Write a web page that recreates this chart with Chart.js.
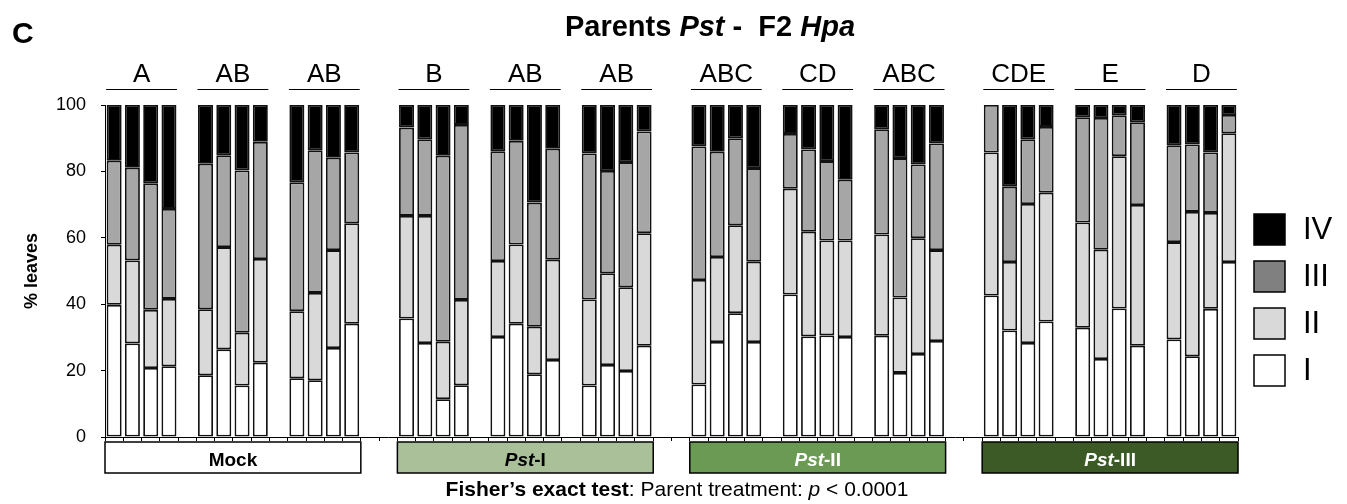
<!DOCTYPE html>
<html>
<head>
<meta charset="utf-8">
<script src="https://cdn.jsdelivr.net/npm/chart.js@4/dist/chart.umd.min.js"></script>
<style>
  html, body { margin: 0; padding: 0; background: #fff; }
  #wrap { position: relative; width: 1347px; height: 504px; }
</style>
</head>
<body>
<div id="wrap"><canvas id="chart" width="1347" height="504"></canvas></div>
<script>
const treatments = ['Mock', 'Pst-I', 'Pst-II', 'Pst-III'];
const treatmentColors = ['#ffffff', '#a9c099', '#6b9a54', '#3b5a26'];
const treatmentTextColors = ['#000000', '#000000', '#ffffff', '#ffffff'];
const groupLetters = ['A', 'AB', 'AB', 'B', 'AB', 'AB', 'ABC', 'CD', 'ABC', 'CDE', 'E', 'D'];
const stageNames = ['I', 'II', 'III', 'IV'];
const stageColors = ['#ffffff', '#d9d9d9', '#a6a6a6', '#000000'];
const legendColors = ['#ffffff', '#d9d9d9', '#808080', '#000000'];
const yTicks = [0, 20, 40, 60, 80, 100];

// % leaves per disease class, 48 bars (12 groups of 4)
const stageI = [
  39.8, 28.2, 20.8, 21.3, 18.6, 26.4, 15.5, 22.4, 17.7, 17.1, 26.8, 34.1,
  35.7, 28.3, 11.4, 15.6, 30.1, 34.1, 18.9, 23.2, 15.5, 21.7, 19.9, 27.5,
  15.8, 28.6, 37.3, 28.6, 42.9, 30.3, 30.6, 30.1, 30.5, 19.3, 25.0, 28.9,
  42.6, 32.1, 28.3, 34.8, 32.9, 23.5, 38.7, 27.5, 29.4, 24.3, 38.6, 52.7,
];
const stageII = [
  18.1, 25.0, 17.5, 20.3, 19.9, 30.8, 15.9, 31.2, 20.2, 26.3, 29.5, 30.3,
  30.9, 38.3, 17.3, 25.7, 22.9, 23.9, 14.3, 30.2, 25.9, 27.6, 25.2, 33.9,
  31.5, 25.6, 26.5, 24.2, 31.9, 31.5, 28.6, 29.1, 30.5, 22.7, 34.9, 27.4,
  43.1, 20.6, 41.9, 38.8, 31.7, 32.9, 45.9, 42.4, 29.3, 43.5, 28.9, 38.8,
];
const stageIII = [
  25.3, 27.9, 38.1, 27.1, 43.8, 27.7, 48.9, 35.3, 38.8, 43.0, 27.8, 21.3,
  26.6, 23.1, 56.0, 52.7, 33.1, 31.2, 37.4, 33.4, 44.0, 30.8, 37.7, 30.6,
  40.2, 31.7, 26.2, 28.2, 16.5, 24.8, 23.9, 18.3, 31.7, 42.0, 22.2, 32.1,
  14.3, 22.7, 19.5, 19.8, 31.7, 39.7, 12.3, 24.9, 29.2, 20.3, 18.2, 5.5,
];
const stageIV = [
  16.8, 18.9, 23.6, 31.3, 17.7, 15.1, 19.7, 11.1, 23.3, 13.6, 15.9, 14.3,
  6.8, 10.3, 15.3, 6.0, 13.9, 10.8, 29.4, 13.2, 14.6, 19.9, 17.2, 8.0,
  12.5, 14.1, 10.0, 19.0, 8.7, 13.4, 16.9, 22.5, 7.3, 16.0, 17.9, 11.6,
  0.0, 24.6, 10.3, 6.6, 3.7, 3.9, 3.1, 5.2, 12.1, 11.9, 14.3, 3.0,
];

const FONT = '"Liberation Sans", Arial, sans-serif';
const BARS_PER_GROUP = 4;
const GROUPS_PER_TREATMENT = 3;
const TREATMENT_SLOTS = 16; // 3 groups of 4 + 1 gap between groups + 2 gap slots after
const TOTAL_SLOTS = TREATMENT_SLOTS * (treatments.length - 1) + 14;

function groupStartSlot(g) {
  const t = Math.floor(g / GROUPS_PER_TREATMENT);
  const j = g % GROUPS_PER_TREATMENT;
  return t * TREATMENT_SLOTS + j * (BARS_PER_GROUP + 1);
}

function toSlots(values) {
  const out = new Array(TOTAL_SLOTS).fill(null);
  values.forEach((v, i) => {
    const g = Math.floor(i / BARS_PER_GROUP);
    out[groupStartSlot(g) + (i % BARS_PER_GROUP)] = v;
  });
  return out;
}

const labels = Array.from({ length: TOTAL_SLOTS }, (_, i) => String(i));
const stageValues = [stageI, stageII, stageIII, stageIV];

const datasets = stageValues.map((vals, idx) => ({
  label: stageNames[idx],
  data: toSlots(vals),
  backgroundColor: stageColors[idx],
  borderColor: '#111',
  borderWidth: 1.8,
  borderSkipped: false,
  categoryPercentage: 1,
  barPercentage: 0.82,
}));

// draw mixed-style text runs centred on x
function drawRuns(ctx, runs, cx, y) {
  let total = 0;
  runs.forEach((r) => {
    ctx.font = r.font;
    r.w = ctx.measureText(r.text).width;
    total += r.w;
  });
  let x = cx - total / 2;
  ctx.textAlign = 'left';
  runs.forEach((r) => {
    ctx.font = r.font;
    ctx.fillStyle = r.color || '#000';
    ctx.fillText(r.text, x, y);
    x += r.w;
  });
}

const decorations = {
  id: 'decorations',
  afterDraw(chart) {
    const ctx = chart.ctx;
    const xs = chart.scales.x;
    const area = chart.chartArea;
    const slot = (area.right - area.left) / TOTAL_SLOTS;
    ctx.save();

    // panel letter
    ctx.fillStyle = '#000';
    ctx.textBaseline = 'alphabetic';
    ctx.textAlign = 'left';
    ctx.font = `bold 30px ${FONT}`;
    ctx.fillText('C', 12, 43);

    // title
    drawRuns(ctx, [
      { text: 'Parents ', font: `bold 29px ${FONT}` },
      { text: 'Pst', font: `italic bold 29px ${FONT}` },
      { text: ' -  F2 ', font: `bold 29px ${FONT}` },
      { text: 'Hpa', font: `italic bold 29px ${FONT}` },
    ], 710, 36);

    // group letters with lines
    groupLetters.forEach((letter, g) => {
      const s = groupStartSlot(g);
      const x1 = xs.getPixelForValue(s) - 8;
      const x2 = xs.getPixelForValue(s + BARS_PER_GROUP - 1) + 8;
      ctx.strokeStyle = '#000';
      ctx.lineWidth = 1;
      ctx.beginPath();
      ctx.moveTo(x1, 89.5);
      ctx.lineTo(x2, 89.5);
      ctx.stroke();
      ctx.font = `26px ${FONT}`;
      ctx.textAlign = 'center';
      ctx.fillStyle = '#000';
      ctx.fillText(letter, (x1 + x2) / 2, 82);
    });

    // y axis title
    ctx.save();
    ctx.translate(32, (area.top + area.bottom) / 2);
    ctx.rotate(-Math.PI / 2);
    ctx.font = `bold 18px ${FONT}`;
    ctx.textAlign = 'center';
    ctx.textBaseline = 'middle';
    ctx.fillText('% leaves', 0, 0);
    ctx.restore();

    // treatment boxes
    treatments.forEach((name, t) => {
      const s = t * TREATMENT_SLOTS;
      const x1 = xs.getPixelForValue(s) - slot / 2;
      const x2 = xs.getPixelForValue(s + 13) + slot / 2;
      ctx.fillStyle = treatmentColors[t];
      ctx.fillRect(x1, 442, x2 - x1, 31);
      ctx.strokeStyle = '#000';
      ctx.lineWidth = 1.5;
      ctx.strokeRect(x1, 442, x2 - x1, 31);
      ctx.textBaseline = 'alphabetic';
      const col = treatmentTextColors[t];
      if (name.startsWith('Pst')) {
        drawRuns(ctx, [
          { text: 'Pst', font: `italic bold 19px ${FONT}`, color: col },
          { text: name.slice(3), font: `bold 19px ${FONT}`, color: col },
        ], (x1 + x2) / 2, 466);
      } else {
        drawRuns(ctx, [{ text: name, font: `bold 19px ${FONT}`, color: col }], (x1 + x2) / 2, 466);
      }
    });

    // statistics note
    ctx.textBaseline = 'alphabetic';
    drawRuns(ctx, [
      { text: 'Fisher\u2019s exact test', font: `bold 21px ${FONT}` },
      { text: ': Parent treatment: ', font: `21px ${FONT}` },
      { text: 'p', font: `italic 21px ${FONT}` },
      { text: ' < 0.0001', font: `21px ${FONT}` },
    ], 677, 496);

    // legend (IV on top)
    for (let i = 0; i < 4; i++) {
      const idx = 3 - i;
      const y = 214 + i * 47;
      ctx.fillStyle = legendColors[idx];
      ctx.fillRect(1254, y, 31, 31);
      ctx.strokeStyle = '#000';
      ctx.lineWidth = 1.5;
      ctx.strokeRect(1254, y, 31, 31);
      ctx.fillStyle = '#000';
      ctx.font = `31px ${FONT}`;
      ctx.textAlign = 'left';
      ctx.textBaseline = 'middle';
      ctx.fillText(stageNames[idx], 1303, y + 16);
    }

    ctx.restore();
  },
};

new Chart(document.getElementById('chart').getContext('2d'), {
  type: 'bar',
  data: { labels, datasets },
  options: {
    responsive: false,
    animation: false,
    layout: { padding: { top: 105, right: 109, bottom: 0, left: 0 } },
    plugins: {
      legend: { display: false },
      tooltip: { enabled: false },
    },
    scales: {
      x: {
        stacked: true,
        ticks: { display: false },
        grid: {
          display: true,
          drawOnChartArea: false,
          offset: true,
          tickLength: 4,
          color: '#000',
        },
        border: { display: true, color: '#000', width: 1 },
        afterFit: (scale) => { scale.height = 67; },
      },
      y: {
        stacked: true,
        min: 0,
        max: 100,
        afterBuildTicks: (scale) => { scale.ticks = yTicks.map((v) => ({ value: v })); },
        ticks: {
          color: '#000',
          padding: 15,
          font: { family: FONT, size: 18 },
        },
        grid: {
          display: true,
          drawOnChartArea: false,
          tickLength: 4,
          color: '#000',
        },
        border: { display: true, color: '#000', width: 1 },
        afterFit: (scale) => { scale.width = 105; },
      },
    },
  },
  plugins: [decorations],
});
</script>
</body>
</html>
